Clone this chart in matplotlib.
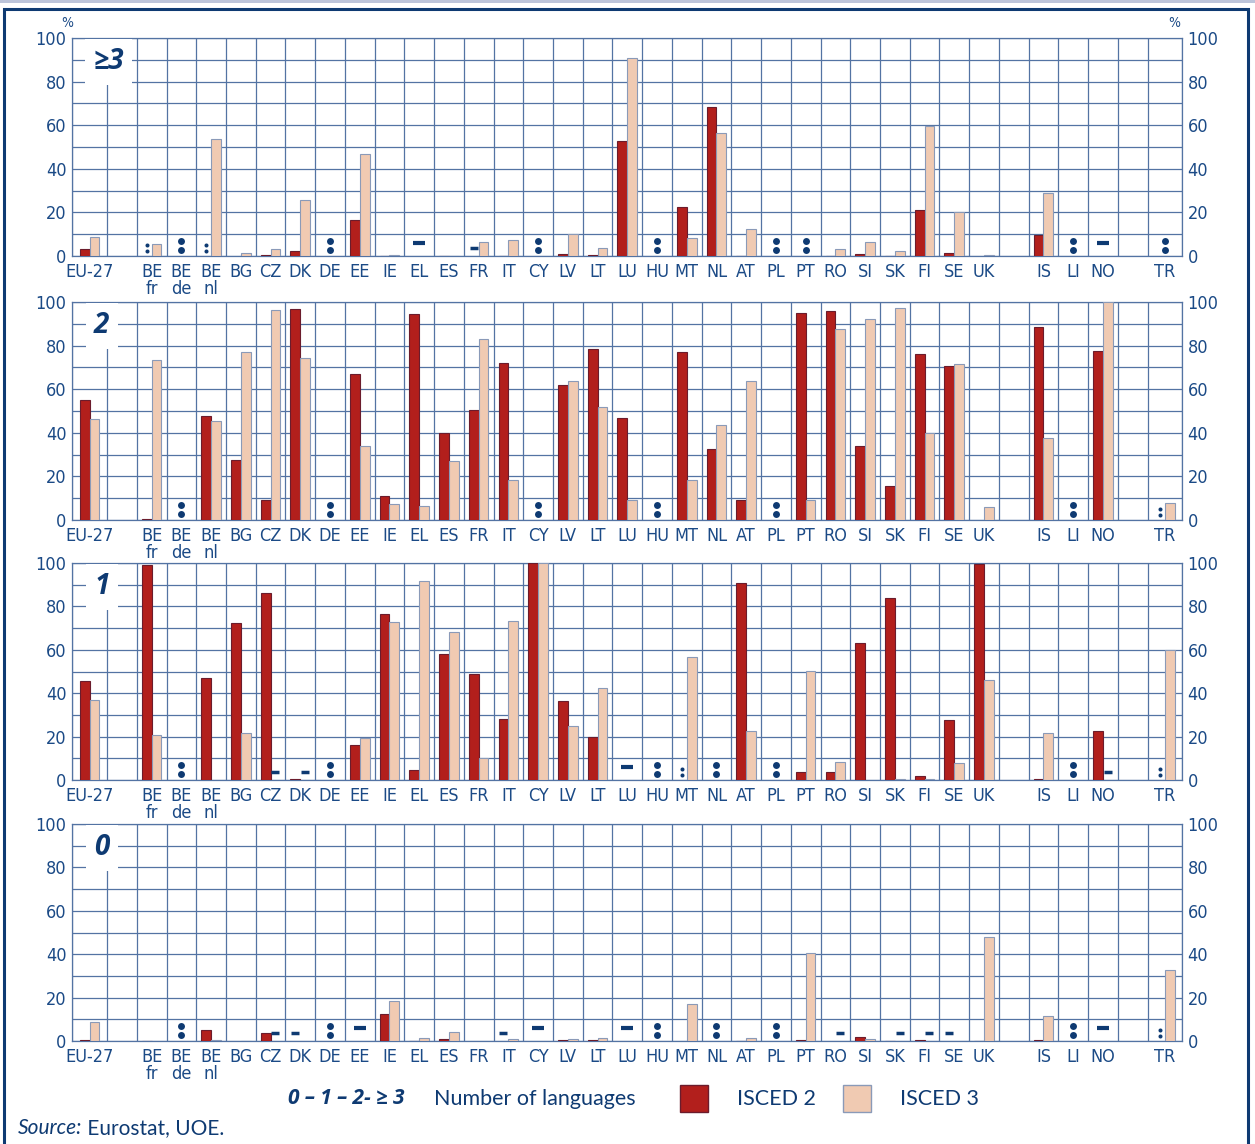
import matplotlib
matplotlib.use('Agg')
import matplotlib.pyplot as plt
import matplotlib.patches as mpatches
from matplotlib import font_manager
import numpy as np

# ── data ────────────────────────────────────────────────────────────────
COUNTRIES = ['EU-27', 'BE\nfr', 'BE\nde', 'BE\nnl', 'BG', 'CZ', 'DK', 'DE', 'EE',
             'IE', 'EL', 'ES', 'FR', 'IT', 'CY', 'LV', 'LT', 'LU', 'HU', 'MT',
             'NL', 'AT', 'PL', 'PT', 'RO', 'SI', 'SK', 'FI', 'SE', 'UK',
             'IS', 'LI', 'NO', 'TR']

PANEL_LABELS = ['≥3', '2', '1', '0']

# ':' = not available, '-' = not applicable
ISCED2_3PLUS = [3.4, ':', ':', ':', 0, 0.6, 2.1, ':', 16.7, 0.2, '-', 0.2, '-', 0.2,
                ':', 0.8, 0.6, 52.8, ':', 22.5, 68.4, 0.2, ':', ':', 0.2, 0.8, 0.2,
                21.3, 1.5, 0, 9.5, ':', '-', ':']
ISCED3_3PLUS = [8.6, 5.5, ':', 53.5, 1.2, 3.4, 25.5, ':', 47.0, 0.6, '-', 0.2, 6.6, 7.2,
                ':', 10.0, 3.8, 90.6, ':', 8.1, 56.3, 12.6, ':', ':', 3.4, 6.6, 2.3,
                59.5, 20.1, 0.3, 29.1, ':', '-', ':']

ISCED2_2 = [55.1, 0.5, ':', 47.8, 27.3, 9.3, 96.8, ':', 66.9, 11.2, 94.6, 40.1, 50.5,
            71.8, ':', 61.7, 78.6, 46.9, ':', 77.2, 32.5, 9.2, ':', 95.1, 95.7, 33.8,
            15.5, 76.0, 70.7, 0, 88.7, ':', 77.5, ':']
ISCED3_2 = [46.4, 73.2, ':', 45.3, 77.0, 96.3, 74.4, ':', 33.8, 7.5, 6.4, 27.0, 82.8,
            18.2, ':', 63.7, 51.8, 9.3, ':', 18.4, 43.6, 63.7, ':', 9.2, 87.7, 92.0,
            97.1, 39.8, 71.7, 6.0, 37.7, ':', 100.0, 7.7]

ISCED2_1 = [45.6, 99.1, ':', 46.9, 72.2, 86.2, 0.4, ':', 16.3, 76.4, 4.6, 58.1, 48.9,
            27.9, 100.0, 36.3, 19.9, '-', ':', ':', ':', 90.6, ':', 3.7, 3.7, 63.2,
            84.0, 2.0, 27.5, 99.7, 0.4, ':', 22.5, ':']
ISCED3_1 = [37.0, 20.9, ':', 0, 21.5, '-', '-', ':', 19.2, 72.7, 91.6, 68.4, 10.1,
            73.2, 100.0, 24.7, 42.6, '-', ':', 56.6, ':', 22.5, ':', 50.2, 8.5, 0,
            0.3, 0.3, 7.8, 46.3, 21.5, ':', '-', 59.7]

ISCED2_0 = [0.6, 0.2, ':', 5.1, 0, 3.8, '-', ':', '-', 12.6, 0.2, 1.1, 0, '-', '-',
            0.6, 0.6, '-', ':', 0, ':', 0.2, ':', 0.6, 0, 1.7, 0.2, 0.6, '-', 0.2,
            0.6, ':', '-', ':']
ISCED3_0 = [8.8, 0, ':', 0.6, 0.2, '-', 0, ':', '-', 18.5, 1.2, 4.3, 0, 1.1, '-',
            1.1, 1.5, '-', ':', 16.9, ':', 1.5, ':', 40.6, '-', 1.1, '-', '-', 0,
            47.7, 11.4, ':', '-', 32.9]

PANELS = [(ISCED2_3PLUS, ISCED3_3PLUS), (ISCED2_2, ISCED3_2),
          (ISCED2_1, ISCED3_1), (ISCED2_0, ISCED3_0)]

# ── style ───────────────────────────────────────────────────────────────
NAVY = '#1B4A86'
DARK = '#0E3A72'
GRID = '#5373A3'
RED = '#B21F1C'
RED_EDGE = '#6B1C2C'
PINK = '#F0CAB2'
PINK_EDGE = '#8A9AB8'
PLAIN = ['Lato', 'DejaVu Sans']
BOLDI = ['Open Sans', 'DejaVu Sans']

# condensed face for the axis labels (the original uses a narrow font)
names = {f.name for f in font_manager.fontManager.ttflist}
if 'Liberation Sans Narrow' in names:
    NARROW = dict(family=['Liberation Sans Narrow', 'DejaVu Sans'])
else:
    NARROW = dict(family=['DejaVu Sans'], stretch='condensed')

W, H = 1255, 1144
GAP_AFTER = {'EU-27', 'UK', 'NO'}
WIDE = {'EU-27': 1.18, 'TR': 1.16}

# cell layout: one unit per country, blank cells after the group breaks
centers, edges, pos = [], [0.0], 0.0
for c in COUNTRIES:
    w = WIDE.get(c, 1.0)
    centers.append(pos + w / 2)
    pos += w
    edges.append(pos)
    if c in GAP_AFTER:
        pos += 1.0
        edges.append(pos)
centers = np.array(centers)
XMAX = pos
BAR_W = 0.33
OFF = 0.165

fig = plt.figure(figsize=(W / 100, H / 100), dpi=100)

# outer frame
fig.patches.append(mpatches.Rectangle((0, 1 - 3 / H), 1, 3 / H, transform=fig.transFigure,
                                      facecolor='#BCC4DA', edgecolor='none'))
fig.patches.append(mpatches.Rectangle((4 / W, -0.05), 1244 / W, 1.05 - 9 / H,
                                      transform=fig.transFigure, facecolor='none',
                                      edgecolor=DARK, linewidth=2.2))

tops = [38, 302, 563, 824]
bottoms = [256, 520, 780, 1041]
left_px, right_px = 72, 1182


def draw_missing(ax, x, sym, big):
    if sym == ':':
        ys = (2.8, 7.1) if big else (2.2, 5.0)
        ms = 5.0 if big else 2.9
        ax.plot([x, x], ys, 'o', color=DARK, markersize=ms, markeredgewidth=0, zorder=5)
    else:
        y = 5.8 if big else 3.6
        ax.plot([x], [y], marker='_', color=DARK, markersize=8 if big else 5.5,
                markeredgewidth=3.0 if big else 2.5, zorder=5)


for k, (red, pink) in enumerate(PANELS):
    ax = fig.add_axes([left_px / W, 1 - bottoms[k] / H, (right_px - left_px) / W,
                       (bottoms[k] - tops[k]) / H])
    ax.set_xlim(0, XMAX)
    ax.set_ylim(0, 100)

    for i, (r, p) in enumerate(zip(red, pink)):
        c = centers[i]
        if isinstance(r, str) and isinstance(p, str) and r == p:
            draw_missing(ax, c, r, True)
            continue
        for v, dx, fc, ec in ((r, -OFF, RED, RED_EDGE), (p, OFF, PINK, PINK_EDGE)):
            if isinstance(v, str):
                draw_missing(ax, c + dx, v, False)
            elif v > 0:
                ax.bar(c + dx, v, width=BAR_W, color=fc, edgecolor=ec,
                       linewidth=0.8, zorder=3)

    ax.set_xticks(edges, minor=True)
    ax.set_xticks(centers)
    ax.set_xticklabels(COUNTRIES, fontsize=13, color=NAVY, linespacing=0.95, **NARROW)
    ax.set_yticks(range(0, 101, 20))
    ax.set_yticks(range(0, 101, 10), minor=True)
    ax.tick_params(axis='both', which='both', length=0)
    ax.tick_params(axis='x', pad=5)
    ax.tick_params(axis='y', pad=4, labelright=True, labelsize=13, labelcolor=NAVY)
    for lab in ax.get_yticklabels(which='both'):
        lab.set_family(NARROW['family'])
        if 'stretch' in NARROW:
            lab.set_stretch(NARROW['stretch'])
    ax.grid(True, axis='x', which='minor', color=GRID, linewidth=0.9)
    ax.grid(True, axis='y', which='both', color=GRID, linewidth=0.9)
    ax.set_axisbelow(True)
    for sp in ax.spines.values():
        sp.set_color(GRID)
        sp.set_linewidth(0.9)

    lx = 1.22 if k == 0 else 1.0
    ax.text(lx, 89, PANEL_LABELS[k], ha='center', va='center', fontsize=20,
            fontweight='bold', style='italic', color=DARK, family=BOLDI,
            bbox=dict(facecolor='white', edgecolor='none', pad=6), zorder=4)

    if k == 0:
        ax.text(-0.004, 1.035, '%', transform=ax.transAxes, ha='center', va='bottom',
                fontsize=10, color=NAVY, **NARROW)
        ax.text(0.9985, 1.035, '%', transform=ax.transAxes, ha='right', va='bottom',
                fontsize=10, color=NAVY, **NARROW)

# ── legend row ──────────────────────────────────────────────────────────
ly = 1 - 1099 / H
fig.text(405 / W, ly, '0 – 1 – 2- ≥ 3', ha='right', va='center', fontsize=15,
         fontweight='bold', style='italic', color=DARK, family=BOLDI)
fig.text(434 / W, ly, 'Number of languages', ha='left', va='center', fontsize=15.5,
         color=DARK, family=PLAIN)
for x0, fc, ec, lab in ((680, RED, RED_EDGE, 'ISCED 2'), (843, PINK, PINK_EDGE, 'ISCED 3')):
    fig.patches.append(mpatches.Rectangle((x0 / W, 1 - 1112 / H), 28 / W, 27 / H,
                                          transform=fig.transFigure, facecolor=fc,
                                          edgecolor=ec, linewidth=1))
    fig.text((x0 + 57) / W, ly, lab, ha='left', va='center', fontsize=15.5,
             color=DARK, family=PLAIN)

# source line: italic "Source:" then plain remainder
sy = 1 - 1128 / H
t = fig.text(18 / W, sy, 'Source:', ha='left', va='center', fontsize=15, style='italic',
             color=DARK, family=PLAIN)
fig.canvas.draw()
bb = t.get_window_extent(fig.canvas.get_renderer())
fig.text(bb.x1 / W, sy, ' Eurostat, UOE.', ha='left', va='center', fontsize=15,
         color=DARK, family=PLAIN)

fig.savefig('out.png', dpi=100, facecolor='white')
